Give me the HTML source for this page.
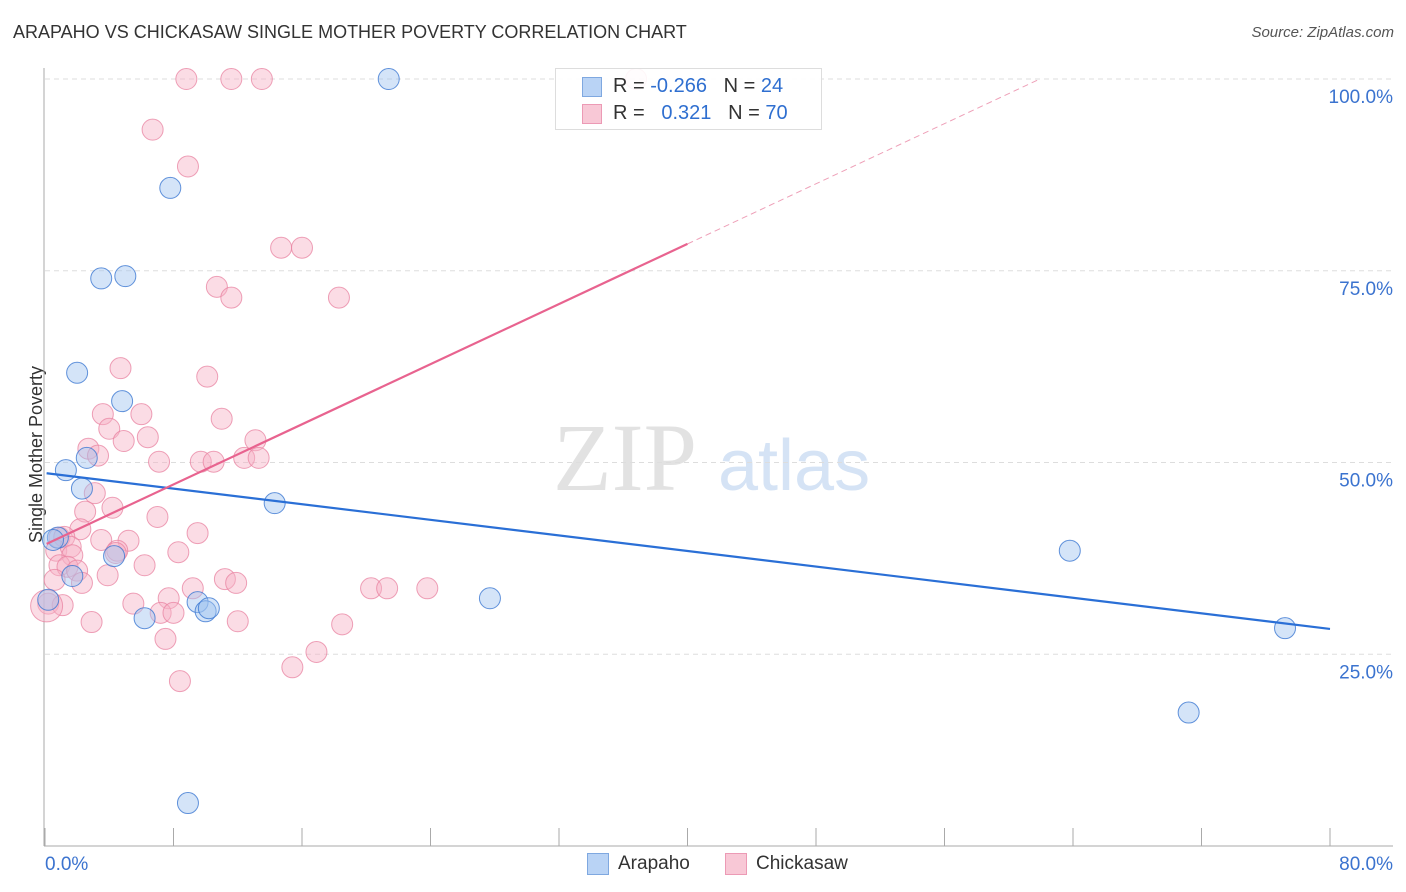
<!DOCTYPE html>
<html><head><meta charset="utf-8">
<style>
body{margin:0;background:#fff;font-family:"Liberation Sans",sans-serif;}
#wrap{position:relative;width:1406px;height:892px;overflow:hidden;}
.t{position:absolute;white-space:nowrap;}
</style></head>
<body>
<div id="wrap">
<div class="t" style="left:13px;top:22px;font-size:18px;color:#333;">ARAPAHO VS CHICKASAW SINGLE MOTHER POVERTY CORRELATION CHART</div>
<div class="t" style="right:12px;top:24px;font-size:15px;color:#555;font-style:italic;">Source: ZipAtlas.com</div>
<div class="t" style="left:-52px;top:444px;font-size:18px;color:#333;transform:rotate(-90deg);">Single Mother Poverty</div>
<svg id="svg" width="1406" height="892" style="position:absolute;left:0;top:0"></svg>
<div class="t" style="left:555px;top:68px;width:265px;height:60px;border:1px solid #ddd;background:rgba(255,255,255,0.9);">
 <div style="position:absolute;left:26px;top:8px;width:18px;height:18px;background:#b9d3f5;border:1px solid #7fa8e0;"></div>
 <div class="t" style="left:57px;top:6px;font-size:20px;color:#333;">R = <span style="color:#2f6fd0">-0.266</span>&nbsp;&nbsp;&nbsp;N = <span style="color:#2f6fd0">24</span></div>
 <div style="position:absolute;left:26px;top:35px;width:18px;height:18px;background:#f8c8d6;border:1px solid #ec9ab5;"></div>
 <div class="t" style="left:57px;top:33px;font-size:20px;color:#333;">R = &nbsp;&nbsp;<span style="color:#2f6fd0">0.321</span>&nbsp;&nbsp;&nbsp;N = <span style="color:#2f6fd0">70</span></div>
</div>
<div style="position:absolute;left:587px;top:853px;width:20px;height:20px;background:#b9d3f5;border:1px solid #7fa8e0;"></div>
<div class="t" style="left:618px;top:853px;font-size:19px;color:#333;">Arapaho</div>
<div style="position:absolute;left:725px;top:853px;width:20px;height:20px;background:#f8c8d6;border:1px solid #ec9ab5;"></div>
<div class="t" style="left:756px;top:853px;font-size:19px;color:#333;">Chickasaw</div>
</div>
<script>
const xTickVals=[0,8,16,24,32,40,48,56,64,72,80];
const yGridVals=[25,50,75,100];
const yLabels=["25.0%","50.0%","75.0%","100.0%"];
const arapahoX=[21.4,7.8,3.5,5.0,2.0,4.8,1.3,2.6,2.3,14.3,0.8,63.8,4.3,1.7,0.2,6.2,9.5,10.0,10.2,27.7,77.2,71.2,8.9,0.5];
const arapahoY=[100,85.8,74.0,74.3,61.7,58.0,49.0,50.6,46.6,44.7,40.2,38.5,37.8,35.2,32.1,29.7,31.8,30.6,31.0,32.3,28.4,17.4,5.6,39.9];
const chickX=[8.8,11.6,13.5,36.8,6.7,8.9,14.7,16.0,10.7,11.6,18.3,4.7,10.1,3.6,6.0,11.0,4.0,6.4,4.9,13.1,2.7,3.3,7.1,9.7,10.5,12.4,13.3,3.1,4.2,2.5,7.0,2.2,9.5,0.9,1.2,3.5,5.2,0.7,1.6,4.5,1.7,8.3,4.4,0.9,1.4,6.2,2.0,3.9,0.6,2.3,9.2,11.2,11.9,20.3,21.3,23.8,0.2,1.1,5.5,7.7,7.2,8.0,2.9,12.0,18.5,7.5,16.9,15.4,8.4,0.1];
const chickY=[100,100,100,100,93.4,88.6,78.0,78.0,72.9,71.5,71.5,62.3,61.2,56.3,56.3,55.7,54.4,53.3,52.8,52.9,51.8,50.9,50.1,50.1,50.1,50.6,50.6,46.0,44.1,43.6,42.9,41.3,40.8,40.2,40.3,39.9,39.8,38.5,39.0,38.5,37.9,38.3,38.2,36.6,36.4,36.6,35.9,35.3,34.7,34.3,33.6,34.8,34.3,33.6,33.6,33.6,31.6,31.4,31.6,32.3,30.4,30.4,29.2,29.3,28.9,27.0,25.3,23.3,21.5,31.3];
const arapahoTrend=[48.6,28.3]; // y at x=0 and x=80
const chickTrend=[39.3,0.98]; // intercept, slope
const sx=v=>45+v*(1285/80);
const sy=v=>846-v*7.67;
const NS="http://www.w3.org/2000/svg";
const svg=document.getElementById('svg');
function mk(tag,attrs,name){const e=document.createElementNS(NS,tag);for(const k in attrs)e.setAttribute(k,attrs[k]);svg.appendChild(e);return e;}
// watermark
let w=mk('text',{x:553,y:490,'font-size':96,'font-family':'Liberation Serif, serif',fill:'#e2e2e2'},'watermark-zip');w.textContent='ZIP';
w=mk('text',{x:718,y:490,'font-size':72,'font-family':'Liberation Sans, sans-serif',fill:'#d5e3f5'},'watermark-atlas');w.textContent='atlas';
yGridVals.forEach((v,i)=>{
 const g=mk('line',{x1:45,x2:1393,y1:sy(v),y2:sy(v),stroke:'#ddd','stroke-dasharray':'5,4'},'gridline');
 const t=mk('text',{x:1393,y:sy(v)+24,'text-anchor':'end','font-size':19,fill:'#3b73cf','font-family':'Liberation Sans, sans-serif'},'y-tick-label');t.textContent=yLabels[i];
});
mk('line',{x1:44,x2:44,y1:68,y2:846,stroke:'#aaa'},'y-axis-line');
mk('line',{x1:44,x2:1393,y1:846,y2:846,stroke:'#aaa'},'x-axis-line');
xTickVals.forEach(v=>{mk('line',{x1:sx(v),x2:sx(v),y1:828,y2:846,stroke:'#aaa'},'x-tick');});
let t=mk('text',{x:45,y:870,'font-size':19,fill:'#3b73cf','font-family':'Liberation Sans, sans-serif'},'x-min-label');t.textContent='0.0%';
t=mk('text',{x:1393,y:870,'text-anchor':'end','font-size':19,fill:'#3b73cf','font-family':'Liberation Sans, sans-serif'},'x-max-label');t.textContent='80.0%';
chickX.forEach((x,i)=>{mk('circle',{cx:sx(x),cy:sy(chickY[i]),r:i===chickX.length-1?16:10.5,fill:'rgba(246,178,198,0.45)',stroke:'rgba(232,130,160,0.75)','stroke-width':1},'chickasaw-point');});
arapahoX.forEach((x,i)=>{mk('circle',{cx:sx(x),cy:sy(arapahoY[i]),r:10.5,fill:'rgba(160,195,240,0.45)',stroke:'rgba(60,120,210,0.8)','stroke-width':1},'arapaho-point');});
mk('line',{x1:sx(0.1),y1:sy(arapahoTrend[0]),x2:sx(80),y2:sy(arapahoTrend[1]),stroke:'#2a6fd6','stroke-width':2.2},'arapaho-trendline');
const cy=x=>chickTrend[0]+chickTrend[1]*x;
const xEnd=(100-chickTrend[0])/chickTrend[1];
mk('line',{x1:sx(0.1),y1:sy(cy(0.1)),x2:sx(40),y2:sy(cy(40)),stroke:'#e8638f','stroke-width':2.2},'chickasaw-trendline');
mk('line',{x1:sx(40),y1:sy(cy(40)),x2:sx(xEnd),y2:sy(100),stroke:'#eea0b8','stroke-width':1,'stroke-dasharray':'6,4'},'chickasaw-trendline-extension');
</script>
</body></html>
